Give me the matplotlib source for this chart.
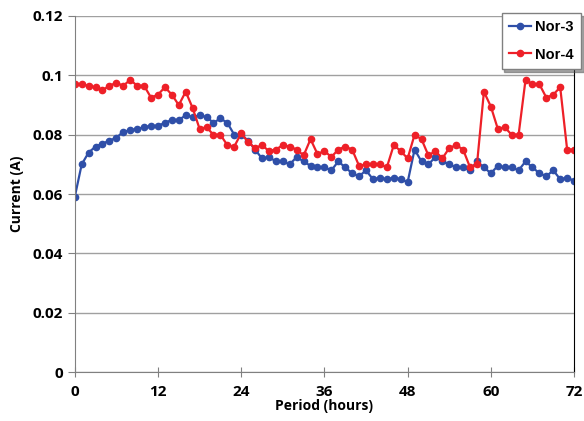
import numpy as np
import matplotlib.pyplot as plt

hours = np.arange(0, 73)

nor3 = [0.059, 0.070, 0.074, 0.076, 0.077, 0.078, 0.079, 0.081, 0.0815, 0.082,
        0.0825, 0.083, 0.083, 0.084, 0.085, 0.085, 0.0865, 0.086, 0.0865, 0.086,
        0.084, 0.0855, 0.084, 0.080, 0.080, 0.078, 0.075, 0.072, 0.0725, 0.071,
        0.071, 0.070, 0.0725, 0.071, 0.0695, 0.069, 0.069, 0.068, 0.071, 0.069,
        0.067, 0.066, 0.068, 0.065, 0.0655, 0.065, 0.0655, 0.065, 0.064, 0.075,
        0.071, 0.070, 0.0725, 0.071, 0.070, 0.069, 0.069, 0.068, 0.071, 0.069,
        0.067, 0.0695, 0.069, 0.069, 0.068, 0.071, 0.069, 0.067, 0.066, 0.068,
        0.065, 0.0655, 0.0645]

nor4 = [0.097, 0.097, 0.0965, 0.096, 0.095, 0.0965, 0.0975, 0.0965, 0.0985, 0.0965,
        0.0965, 0.0925, 0.0935, 0.096, 0.0935, 0.090, 0.0945, 0.089, 0.082, 0.0825,
        0.080, 0.080, 0.0765, 0.076, 0.0805, 0.0775, 0.0755, 0.0765, 0.0745, 0.075,
        0.0765, 0.076, 0.075, 0.073, 0.0785, 0.0735, 0.0745, 0.0725, 0.075, 0.076,
        0.075, 0.0695, 0.070, 0.070, 0.070, 0.069, 0.0765, 0.0745, 0.072, 0.080,
        0.0785, 0.073, 0.0745, 0.072, 0.0755, 0.0765, 0.075, 0.069, 0.070, 0.0945,
        0.0895, 0.082, 0.0825, 0.080, 0.080, 0.0985, 0.097, 0.097, 0.0925, 0.0935,
        0.096, 0.075, 0.075]

x_ticks = [0, 12, 24, 36, 48, 60, 72]
y_ticks = [0, 0.02, 0.04, 0.06, 0.08, 0.1, 0.12]
y_labels = ['0', '0.02', '0.04', '0.06', '0.08', '0.1', '0.12']

fig = plt.figure(figsize=(5.84, 4.21), dpi=100)
ax = fig.add_axes([0.128, 0.116, 0.855, 0.846])

ax.plot(hours, nor3, color='#2f4fa8', marker='o', markersize=4.5, linewidth=1.6, label='Nor-3')
ax.plot(hours, nor4, color='#ee2028', marker='o', markersize=4.5, linewidth=1.6, label='Nor-4')

ax.set_xlim(0, 72)
ax.set_ylim(0, 0.12)
ax.set_xticks(x_ticks)
ax.set_yticks(y_ticks)
ax.set_yticklabels(y_labels)
ax.grid(axis='y', color='#a0a0a0', linewidth=1)
ax.set_axisbelow(True)

for s in ['left', 'bottom']:
    ax.spines[s].set_color('#808080')
ax.spines['top'].set_visible(False)
ax.spines['right'].set_color('black')

ax.tick_params(axis='x', direction='inout', length=7, color='#808080', pad=6)
ax.tick_params(axis='y', direction='out', length=5, color='#808080')
for lab in ax.get_xticklabels() + ax.get_yticklabels():
    lab.set_fontfamily('Open Sans')
    lab.set_fontweight('bold')
    lab.set_fontsize(11)

ax.set_xlabel('Period (hours)', fontfamily='Open Sans', fontweight='bold', fontsize=10, labelpad=0)
ax.set_ylabel('Current (A)', fontfamily='Open Sans', fontweight='bold', fontsize=10, labelpad=6)

# legend sits in the top right corner, partly past the plot edge
leg = ax.legend(loc='upper right', bbox_to_anchor=(1.014, 1.008), fancybox=False, shadow=True,
                edgecolor='#808080', framealpha=1, handlelength=1.5, handletextpad=0.3,
                borderpad=0.5, labelspacing=0.9, borderaxespad=0,
                prop={'family': 'Liberation Sans', 'weight': 'bold', 'size': 10.5})
leg.get_frame().set_linewidth(1)

fig.savefig('out.png', dpi=100)
